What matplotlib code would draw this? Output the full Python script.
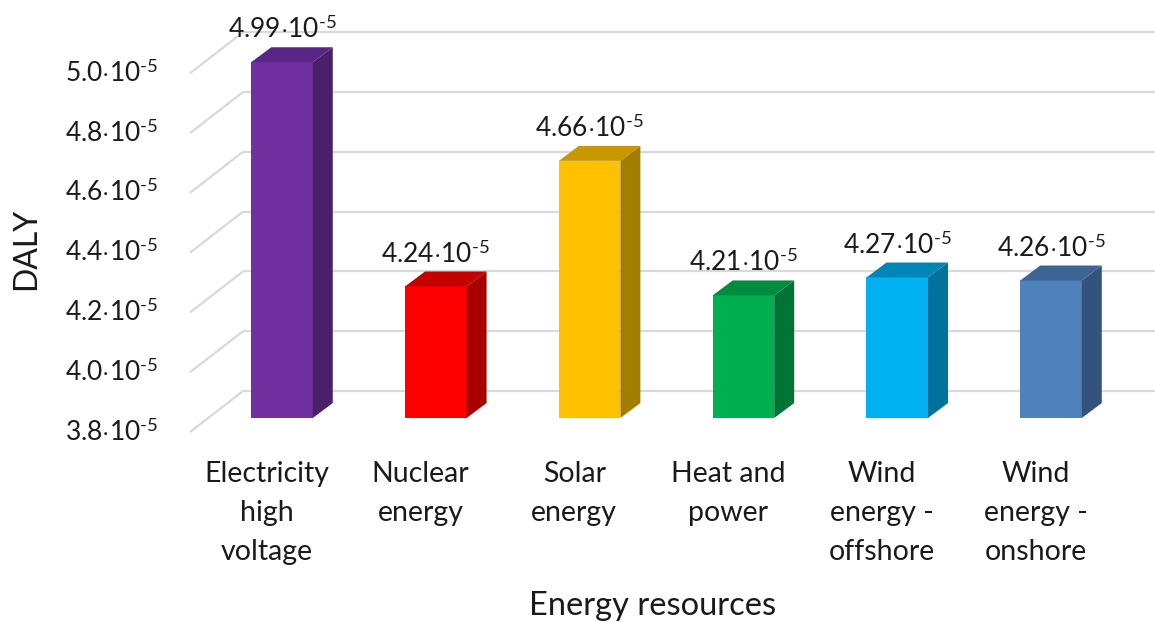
import matplotlib.pyplot as plt
from matplotlib.patches import Polygon

plt.rcParams['font.family'] = ['Lato', 'DejaVu Sans']
plt.rcParams['mathtext.fontset'] = 'custom'
plt.rcParams['mathtext.rm'] = 'Lato'
plt.rcParams['mathtext.it'] = 'Lato:italic'
plt.rcParams['mathtext.bf'] = 'Lato:bold'

# data (DALY, in units of 1e-5)
categories = ['Electricity\nhigh\nvoltage', 'Nuclear\nenergy', 'Solar\nenergy',
              'Heat and\npower', 'Wind\nenergy -\noffshore', 'Wind\nenergy -\nonshore']
daly = [4.99, 4.24, 4.66, 4.21, 4.27, 4.26]
value_labels = ['4.99', '4.24', '4.66', '4.21', '4.27', '4.26']
yticks = [3.8, 4.0, 4.2, 4.4, 4.6, 4.8, 5.0]
ytick_labels = ['3.8', '4.0', '4.2', '4.4', '4.6', '4.8', '5.0']

front_colors = ['#7030A0', '#FF0000', '#FFC000', '#00B050', '#00B0F0', '#4F81BD']
top_colors = ['#5a2685', '#c40000', '#c99700', '#008c3e', '#0086b6', '#3d6593']
side_colors = ['#4b206b', '#a80000', '#a57e00', '#007434', '#00719b', '#33537c']

# "·10⁻⁵" suffix, short hyphen in the exponent
EXP = '$\\cdot$10$^{\u20105}$'

base = 3.8
width = 0.40
# fake 3d offsets
dx, dy = 0.13, 0.05            # bar depth
wall_dy = 0.09                  # back wall shift
front_dy = -0.047               # front edge of side wall
wall_x0, front_x0 = -0.254, -0.598

fig = plt.figure(figsize=(11.55, 6.22), dpi=100)
ax = fig.add_axes([0, 0, 1, 1])
ax.set_xlim(-1.8336, 5.676)
ax.set_ylim(3.1177, 5.198)
ax.axis('off')

grid_kw = dict(color='#d9d9d9', lw=1.6, zorder=1, solid_capstyle='butt')
for t, lab in zip(yticks, ytick_labels):
    # back wall line + side wall diagonal
    ax.plot([wall_x0, 5.676], [t + wall_dy, t + wall_dy], **grid_kw)
    ax.plot([front_x0, wall_x0], [t + front_dy, t + wall_dy], **grid_kw)
    ax.text(front_x0 - 0.205, t + front_dy, lab + EXP,
            ha='right', va='center', fontsize=19, color='#1a1a1a')

x = list(range(len(daly)))
ax.bar(x, [v - base for v in daly], bottom=base, width=width,
       color=front_colors, zorder=3)

for i, v in enumerate(daly):
    l, r = i - width / 2, i + width / 2
    side = Polygon([(r, base), (r + dx, base + dy), (r + dx, v + dy), (r, v)],
                   closed=True, facecolor=side_colors[i], edgecolor='none', zorder=3)
    top = Polygon([(l, v), (r, v), (r + dx, v + dy), (l + dx, v + dy)],
                  closed=True, facecolor=top_colors[i], edgecolor='none', zorder=3)
    ax.add_patch(side)
    ax.add_patch(top)
    ax.text(i, v + dy + 0.03, value_labels[i] + EXP,
            ha='center', va='baseline', fontsize=19, color='#1a1a1a', zorder=4)
    ax.text(i - 0.1, 3.655, categories[i], ha='center', va='top',
            fontsize=20.5, color='#1a1a1a', linespacing=1.6)

ax.text(0.0225, 0.6, 'DALY', transform=ax.transAxes, rotation=90,
        ha='center', va='center', fontsize=23, color='#1a1a1a')
ax.text(0.565, 0.026, 'Energy resources', transform=ax.transAxes,
        ha='center', va='center', fontsize=23.5, color='#1a1a1a')

fig.savefig('out.png', dpi=100)
